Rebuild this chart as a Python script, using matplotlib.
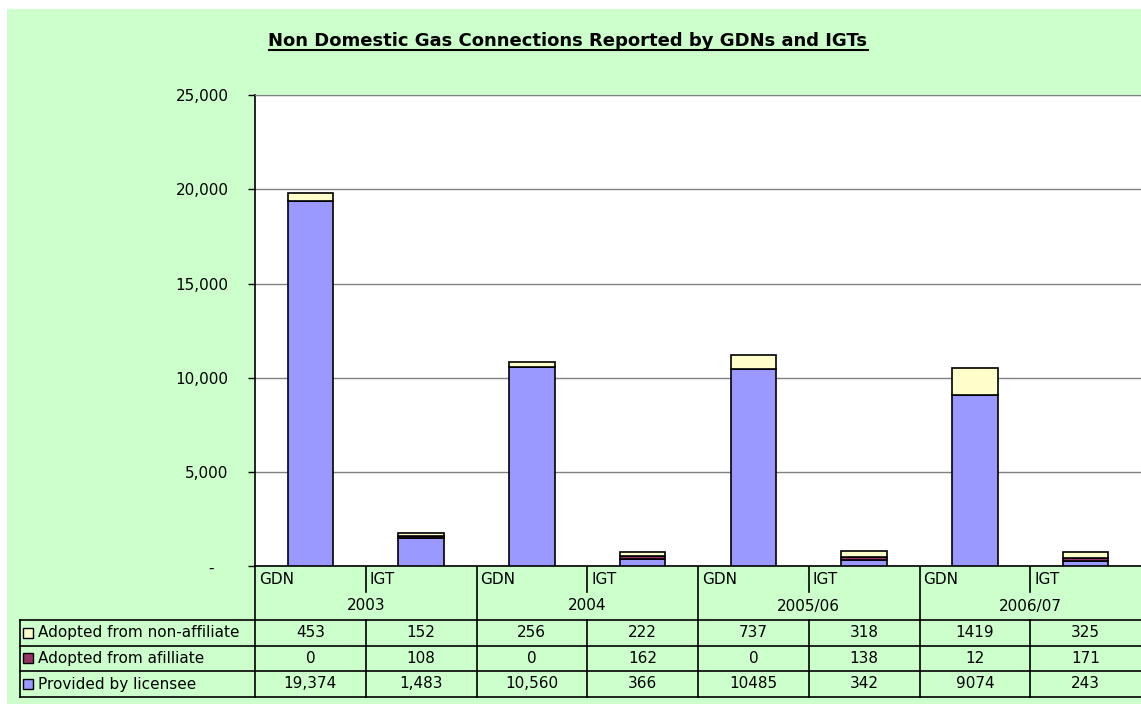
import matplotlib
matplotlib.use("Agg")
import matplotlib.pyplot as plt
from matplotlib.patches import Rectangle

# data
years = ["2003", "2004", "2005/06", "2006/07"]
kinds = ["GDN", "IGT"]
provided = [19374, 1483, 10560, 366, 10485, 342, 9074, 243]
affiliate = [0, 108, 0, 162, 0, 138, 12, 171]
non_affiliate = [453, 152, 256, 222, 737, 318, 1419, 325]
comma_fmt = [True, True, False, False]   # table shows commas only for first two years
y_ticks = [0, 5000, 10000, 15000, 20000, 25000]

series_names = ["Adopted from non-affiliate", "Adopted from afilliate", "Provided by licensee"]
colors = {"Provided by licensee": "#9999FF",
          "Adopted from afilliate": "#993366",
          "Adopted from non-affiliate": "#FFFFCC"}
green = "#CCFFCC"

W, H = 1141, 705
fig = plt.figure(figsize=(W / 100, H / 100), dpi=100)
fig.patch.set_facecolor("white")

# overlay axes in pixel coordinates for background, table and category labels
bg = fig.add_axes([0, 0, 1, 1])
bg.set_xlim(0, W)
bg.set_ylim(H, 0)
bg.axis("off")
bg.add_patch(Rectangle((7, 9), W - 7, 695, facecolor=green, edgecolor="none"))

left, top, bottom = 255, 95.3, 566
ax = fig.add_axes([left / W, 1 - bottom / H, (W - left) / W, (bottom - top) / H])
ax.set_facecolor("white")

n = len(provided)
x = list(range(n))
bw = 0.41
ax.bar(x, provided, bw, color=colors["Provided by licensee"], edgecolor="black", linewidth=1.2, zorder=3)
ax.bar(x, affiliate, bw, bottom=provided, color=colors["Adopted from afilliate"],
       edgecolor="black", linewidth=1.2, zorder=3)
base2 = [p + a for p, a in zip(provided, affiliate)]
ax.bar(x, non_affiliate, bw, bottom=base2, color=colors["Adopted from non-affiliate"],
       edgecolor="black", linewidth=1.2, zorder=3)

ax.set_xlim(-0.5, n - 0.5)
ax.set_ylim(0, 25000)
ax.set_yticks(y_ticks)
ax.set_yticklabels([""] + ["{:,}".format(v) for v in y_ticks[1:]], fontsize=11)
ax.tick_params(axis="y", length=5, width=1, pad=14, color="black")
ax.tick_params(axis="x", length=0, labelbottom=False)
ax.yaxis.grid(True, color="#808080", linewidth=1, zorder=0)
ax.spines["right"].set_visible(False)
ax.spines["top"].set_color("#808080")
ax.spines["left"].set_color("black")
ax.spines["bottom"].set_color("black")
ax.spines["left"].set_linewidth(1.2)
ax.spines["bottom"].set_linewidth(1.2)
bg.text(214, 568, "-", fontsize=11, ha="right", va="center")

# category axis + data table
slot = (W - left) / n
lc = "black"
row_y = [620, 645.5, 671, 697]
bg.plot([left, left], [bottom, row_y[-1]], color=lc, lw=1.2)
for g in range(len(years)):
    x0 = left + 2 * g * slot
    if g > 0:
        bg.plot([x0, x0], [bottom, row_y[-1]], color=lc, lw=1.2)
    xm = x0 + slot
    bg.plot([xm, xm], [bottom, 592], color=lc, lw=1.2)
    bg.plot([xm, xm], [row_y[0], row_y[-1]], color=lc, lw=1.2)
    for k, kind in enumerate(kinds):
        bg.text(x0 + k * slot + 4, 579, kind, fontsize=11, ha="left", va="center")
    bg.text(xm, 606, years[g], fontsize=11, ha="center", va="center")

for yy in row_y:
    bg.plot([20, W], [yy, yy], color=lc, lw=1.2)
bg.plot([20, 20], [row_y[0], row_y[-1]], color=lc, lw=1.2)

table_vals = {"Adopted from non-affiliate": non_affiliate,
              "Adopted from afilliate": affiliate,
              "Provided by licensee": provided}
for r, name in enumerate(series_names):
    yc = (row_y[r] + row_y[r + 1]) / 2
    bg.add_patch(Rectangle((23, yc - 5), 10, 10, facecolor=colors[name], edgecolor="black", lw=1))
    bg.text(38, yc, name, fontsize=11, ha="left", va="center")
    for i, v in enumerate(table_vals[name]):
        s = "{:,}".format(v) if comma_fmt[i // 2] else str(v)
        bg.text(left + (i + 0.5) * slot, yc, s, fontsize=11, ha="center", va="center")

# title with underline
t = bg.text(568, 46.5, "Non Domestic Gas Connections Reported by GDNs and IGTs",
            fontsize=13, fontweight="bold", ha="center", va="baseline")
fig.canvas.draw()
bb = t.get_window_extent()
bg.plot([bb.x0, bb.x1], [49.5, 49.5], color="black", lw=1.5)

fig.savefig("out.png", dpi=100, facecolor=fig.get_facecolor())
